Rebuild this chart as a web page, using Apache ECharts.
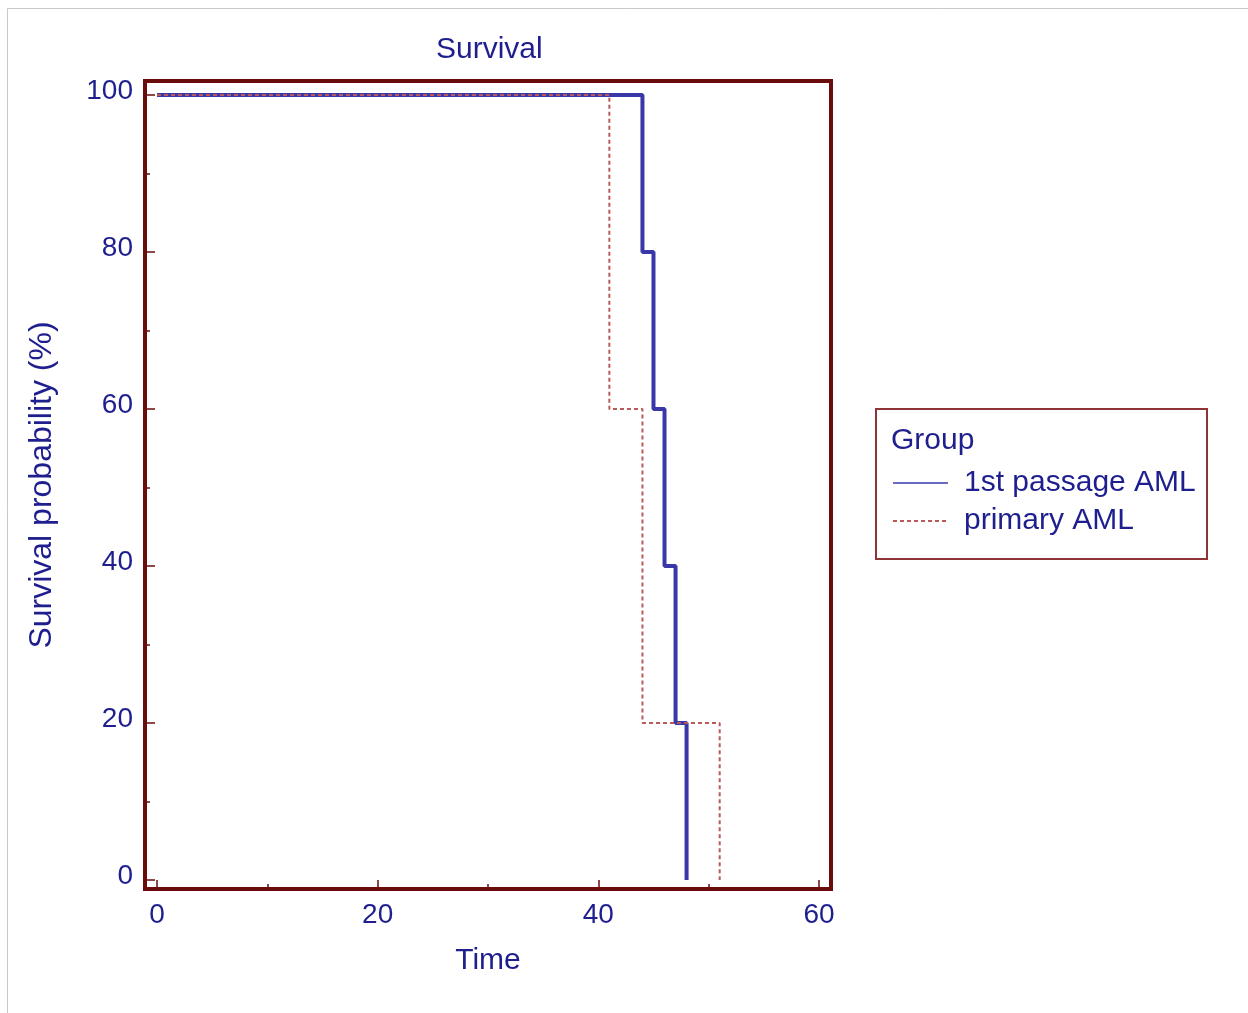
<!DOCTYPE html>
<html>
<head>
<meta charset="utf-8">
<script src="https://cdn.jsdelivr.net/npm/echarts@6/dist/echarts.min.js"></script>
<style>
html,body{margin:0;padding:0;background:#fff;}
#chart{width:1248px;height:1013px;}
</style>
</head>
<body>
<div id="chart"></div>
<script>
// Kaplan-Meier step data (time, survival %)
const blueName = '1st passage AML';
const blueTimes = [0, 44, 45, 46, 47, 48];
const blueSurv = [100, 80, 60, 40, 20, 0];
const redName = 'primary AML';
const redTimes = [0, 41, 44, 51];
const redSurv = [100, 60, 20, 0];
// axis extents (frame is a little larger than the 0-60 / 0-100 tick range)
const xMin = -1.09, xMax = 61.09;
const yMin = -1.15, yMax = 101.78;
const xMajorTicks = [0, 20, 40, 60];
const xMinorTicks = [10, 30, 50];
const yMajorTicks = [0, 20, 40, 60, 80, 100];
const yMinorTicks = [10, 30, 50, 70, 90];

const textColor = '#1e1e8e';
const frameColor = '#6b0c0c';
const blueColor = '#3838a8';
const redColor = '#b85a5a';
const font = 'Liberation Sans, Arial, sans-serif';

function xAxisDef(major) {
  return {
    type: 'value', min: xMin, max: xMax, position: 'bottom', offset: 0,
    name: major ? 'Time' : '', nameLocation: 'middle', nameGap: 57,
    nameTextStyle: {color: textColor, fontFamily: font, fontSize: 30},
    axisLine: {show: false, onZero: false},
    axisTick: {show: true, inside: true, length: major ? 9 : 5,
      customValues: major ? xMajorTicks : xMinorTicks,
      lineStyle: {color: frameColor, width: 1.5}},
    axisLabel: {show: major, customValues: xMajorTicks, color: textColor,
      fontFamily: font, fontSize: 28, margin: 12},
    splitLine: {show: false}
  };
}
function yAxisDef(major) {
  return {
    type: 'value', min: yMin, max: yMax, position: 'left', offset: 0,
    name: major ? 'Survival probability (%)' : '', nameLocation: 'middle', nameGap: 87, nameRotate: 90,
    nameTextStyle: {color: textColor, fontFamily: font, fontSize: 32},
    axisLine: {show: false, onZero: false},
    axisTick: {show: true, inside: true, length: major ? 10 : 5,
      customValues: major ? yMajorTicks : yMinorTicks,
      lineStyle: {color: frameColor, width: 1.5}},
    axisLabel: {show: major, customValues: yMajorTicks, color: textColor,
      fontFamily: font, fontSize: 28, margin: 12, verticalAlign: 'bottom', lineHeight: 8},
    splitLine: {show: false}
  };
}

const chart = echarts.init(document.getElementById('chart'));
chart.setOption({
  animation: false,
  backgroundColor: '#fff',
  title: {
    text: 'Survival',
    left: 431, top: 30,
    textStyle: {color: textColor, fontFamily: font, fontSize: 30, fontWeight: 'normal'}
  },
  grid: {left: 145, top: 81, right: 417, bottom: 124},
  xAxis: [xAxisDef(true), xAxisDef(false)],
  yAxis: [yAxisDef(true), yAxisDef(false)],
  legend: {
    orient: 'vertical',
    left: 887, top: 463,
    itemWidth: 55, itemHeight: 14, itemGap: 8,
    textStyle: {color: textColor, fontFamily: font, fontSize: 30, padding: [0, 0, 0, 11]},
    data: [
      {name: blueName, itemStyle: {opacity: 0}, lineStyle: {width: 2, color: '#6a6ac0'}},
      {name: redName, itemStyle: {opacity: 0}, lineStyle: {width: 2, color: redColor, type: [4, 3]}}
    ]
  },
  graphic: [
    {type: 'rect', z: 0, shape: {x: 7.5, y: 8.5, width: 1300, height: 1100},
     style: {fill: 'none', stroke: '#c8c8c8', lineWidth: 1}},
    {type: 'rect', z: 50, shape: {x: 145, y: 81, width: 686, height: 808},
     style: {fill: 'none', stroke: frameColor, lineWidth: 4}},
    {type: 'rect', z: 50, shape: {x: 876, y: 409, width: 331, height: 150},
     style: {fill: 'none', stroke: '#8e3434', lineWidth: 2}},
    {type: 'text', z: 50, left: 891, top: 426,
     style: {text: 'Group', fill: textColor, font: '30px ' + font}}
  ],
  series: [
    {
      name: blueName, type: 'line', step: 'end', symbol: 'none', clip: false,
      data: blueTimes.map((t, i) => [t, blueSurv[i]]),
      lineStyle: {color: blueColor, width: 4},
      itemStyle: {color: blueColor}
    },
    {
      name: redName, type: 'line', step: 'end', symbol: 'none', clip: false,
      data: redTimes.map((t, i) => [t, redSurv[i]]),
      lineStyle: {color: redColor, width: 2, type: [4, 3]},
      itemStyle: {color: redColor}
    }
  ]
});
</script>
</body>
</html>
